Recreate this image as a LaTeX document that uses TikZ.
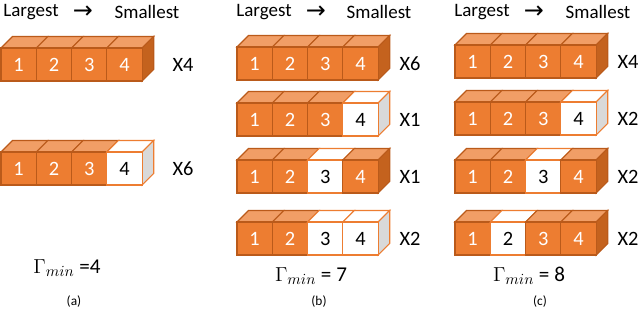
\documentclass[tikz,border=0pt]{standalone}
\usepackage{fontspec}
\setmainfont{Carlito}
\newfontfamily\arrowfont{DejaVu Sans}
\usetikzlibrary{positioning}
\definecolor{cubefront}{HTML}{ED7D31}
\definecolor{cubetop}{HTML}{F19E66}
\definecolor{cubeside}{HTML}{C4621E}
\definecolor{cubeedge}{HTML}{BA5A1A}
\definecolor{cubegrey}{HTML}{D9D9D9}

% one row of four cubes: x, y (top of front faces), pattern, name, multiplier, multiplier x
\newcommand{\cuberow}[6]{%
  \foreach \t [count=\i] in {#3} {
    \pgfmathsetmacro{\cx}{#1+35.3*(\i-1)}
    \ifnum\t=1
      \def\fc{cubefront}\def\tc{cubetop}\def\sc{cubeside}\def\ec{cubeedge}\def\lc{white}
    \else
      \def\fc{white}\def\tc{white}\def\sc{cubegrey}\def\ec{cubefront}\def\lc{black}
    \fi
    \filldraw[cubeline, fill=\tc, draw=\ec] (\cx,#2) -- ++(11.5,-11.5) -- ++(35.3,0) -- ++(-11.5,11.5) -- cycle;
    \ifnum\i=4
      \filldraw[cubeline, fill=\sc, draw=\ec] (\cx+35.3,#2) -- ++(11.5,-11.5) -- ++(0,33) -- ++(-11.5,11.5) -- cycle;
    \fi
    \filldraw[cubeline, fill=\fc, draw=\ec] (\cx,#2) rectangle ++(35.3,33);
    \node[num, text=\lc] (#4-\i) at (\cx+17.65,#2+17) {\i};
  }
  \node[mult] (#4-x) at (#6,#2+16.5) {#5};
}

\begin{document}
\begin{tikzpicture}[x=0.025cm, y=-0.025cm,
    cubeline/.style={line width=0.8pt},
    num/.style={inner sep=0pt, font=\fontsize{14.5}{16}\selectfont},
    mult/.style={inner sep=0pt, font=\fontsize{14.5}{16}\selectfont},
    head/.style={inner sep=0pt, font=\fontsize{13.5}{16}\selectfont},
    arr/.style={inner sep=0pt, font=\arrowfont\fontsize{17}{18}\selectfont},
    gam/.style={inner sep=0pt, font=\fontsize{15}{18}\selectfont},
    sublabel/.style={inner sep=0pt, font=\fontsize{9.5}{11}\selectfont}
  ]
    \useasboundingbox (0,0) rectangle (640,335);

    % Headers
    \node[head] (hda-l) at (31,12) {Largest};
    \node[arr] (hda-ar) at (83,12) {→};
    \node[head] (hda-s) at (147,12) {Smallest};
    \node[head] (hdb-l) at (264,12) {Largest};
    \node[arr] (hdb-ar) at (316,12) {→};
    \node[head] (hdb-s) at (379,12) {Smallest};
    \node[head] (hdc-l) at (482,12) {Largest};
    \node[arr] (hdc-ar) at (534,12) {→};
    \node[head] (hdc-s) at (598,12) {Smallest};

    % Panel (a)
    \cuberow{1}{48}{1,1,1,1}{a1}{X4}{183}
    \cuberow{1}{152}{1,1,1,0}{a2}{X6}{183}
    \node[gam] (ga) at (67,268) {$\Gamma_{min}$ =4};
    \node[sublabel] (ca) at (74,302) {(a)};

    % Panel (b)
    \cuberow{237}{47}{1,1,1,1}{b1}{X6}{410}
    \cuberow{237}{103}{1,1,1,0}{b2}{X1}{410}
    \cuberow{237}{160}{1,1,0,1}{b3}{X1}{410}
    \cuberow{237}{222}{1,1,0,0}{b4}{X2}{410}
    \node[gam] (gb) at (311,276) {$\Gamma_{min}$ = 7};
    \node[sublabel] (cb) at (319,302) {(b)};

    % Panel (c)
    \cuberow{455}{45}{1,1,1,1}{c1}{X4}{628}
    \cuberow{455}{102}{1,1,1,0}{c2}{X2}{628}
    \cuberow{455}{160}{1,1,0,1}{c3}{X2}{628}
    \cuberow{455}{222}{1,0,1,1}{c4}{X2}{628}
    \node[gam] (gc) at (529,276) {$\Gamma_{min}$ = 8};
    \node[sublabel] (cc) at (540,302) {(c)};
  \end{tikzpicture}
\end{document}
